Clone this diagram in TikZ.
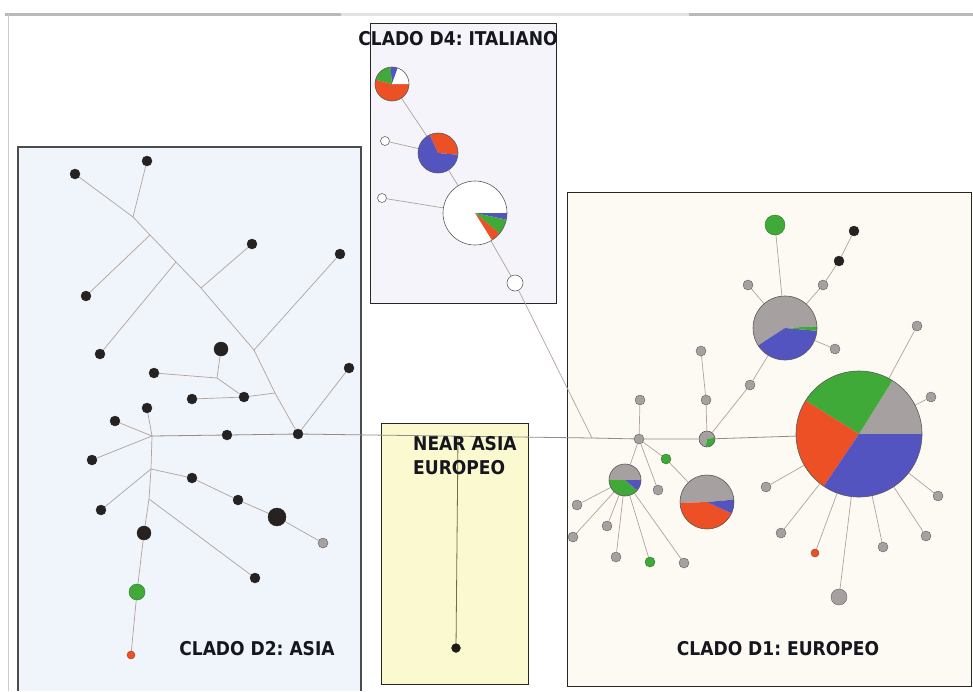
\documentclass[tikz,border=0pt]{standalone}
\usepackage{fontspec}
\setmainfont{DejaVu Sans}
\newfontfamily\lblfont{DejaVu Sans Condensed}
\pgfdeclarelayer{boxes}
\pgfdeclarelayer{edges}
\pgfdeclarelayer{pies}
\pgfsetlayers{boxes,edges,pies,main}
\definecolor{dblue}{RGB}{84,84,192}
\definecolor{dred}{RGB}{236,80,36}
\definecolor{dgreen}{RGB}{64,170,56}
\definecolor{dgray}{RGB}{166,160,160}
\definecolor{dotblk}{RGB}{38,34,34}
\definecolor{edgec}{RGB}{178,162,156}
\definecolor{edged}{RGB}{150,138,134}
\definecolor{olivec}{RGB}{120,108,62}
\definecolor{fillDtwo}{RGB}{239,245,250}
\definecolor{fillDfour}{RGB}{244,244,250}
\definecolor{fillNA}{RGB}{251,249,207}
\definecolor{fillDone}{RGB}{253,250,244}
\definecolor{labc}{RGB}{22,22,30}
\newcommand\pw[5]{\fill[#5] (#1.center) -- ++(#2:#4) arc[start angle=#2,end angle=#3,radius=#4] -- cycle;}
\begin{document}
\frenchspacing
\begin{tikzpicture}[x=1pt,y=-1pt,
  hdot/.style={circle,inner sep=0pt,minimum size=#1,line width=0.4pt},
  blk/.style={hdot=#1,fill=dotblk,draw=dotblk},
  blk/.default=10pt,
  gry/.style={hdot=#1,fill=dgray,draw=gray!75!black},
  gry/.default=10pt,
  grn/.style={hdot=#1,fill=dgreen,draw=dgreen!70!black},
  grn/.default=10pt,
  rdd/.style={hdot=#1,fill=dred,draw=dred!70!black},
  rdd/.default=8pt,
  opn/.style={hdot=#1,fill=white,draw=gray!80!black,line width=0.6pt},
  opn/.default=9pt,
  piec/.style={circle,inner sep=0pt,minimum size=#1,draw=black!65,line width=0.6pt},
  edge/.style={draw=edgec,line width=0.7pt},
  mainedge/.style={draw=edged,line width=0.8pt},
  box/.style={draw=black!85,line width=0.8pt},
  lbl/.style={font=\lblfont\bfseries\fontsize{19}{22}\selectfont,text=labc,inner sep=0pt}]
\useasboundingbox (0,0) rectangle (973,691);
\begin{pgfonlayer}{boxes}
\fill[white] (0,0) rectangle (973,691);
\draw[gray!55,line width=3pt] (5,14) -- (973,14);
\draw[gray!22,line width=3pt] (341,14) -- (689,14);
\draw[gray!40,line width=0.8pt] (8,14) -- (8,691);
\fill[fillDtwo] (18,147) rectangle (361,691);
\draw[box,draw=black!70,line width=1.1pt] (18,691) -- (18,147) -- (361,147) -- (361,691);
\filldraw[box,fill=fillDfour] (370,23) rectangle (556,303);
\filldraw[box,fill=fillNA] (381,423) rectangle (528,684);
\filldraw[box,fill=fillDone] (567,192) rectangle (971,686);
\end{pgfonlayer}

% ---------------- labels
\node[lbl,anchor=base] (labDfour) at (458,45) {CLADO D4: ITALIANO};
\node[lbl,anchor=base] (labDtwo) at (257,655) {CLADO D2: ASIA};
\node[lbl,anchor=base] (labDone) at (778,655) {CLADO D1: EUROPEO};
\node[lbl,anchor=base west] (labNAa) at (413,450) {NEAR ASIA};
\node[lbl,anchor=base west] (labNAb) at (413,474) {EUROPEO};

% ---------------- D2 nodes
\node[blk] (a) at (147,161) {};
\node[blk] (b) at (75,174) {};
\node[blk] (c) at (252,244) {};
\node[blk] (d) at (340,254) {};
\node[blk] (e) at (86,296) {};
\node[blk] (f) at (100,354) {};
\node[blk=14pt] (g) at (221,349) {};
\node[blk] (h) at (154,373) {};
\node[blk] (i) at (349,368) {};
\node[blk] (j) at (244,397) {};
\node[blk] (k) at (192,399) {};
\node[blk] (l) at (147,408) {};
\node[blk] (m) at (115,421) {};
\node[blk] (n) at (227,435) {};
\node[blk] (hubB) at (298,434) {};
\coordinate (hubA) at (152,436);
\node[blk] (p) at (92,460) {};
\node[blk] (q) at (101,510) {};
\node[blk=14pt] (r) at (144,533) {};
\node[blk] (s) at (192,478) {};
\node[blk] (t) at (238,500) {};
\node[blk=18pt] (u) at (277,517) {};
\node[gry] (v) at (323,543) {};
\node[blk] (w) at (255,578) {};
\node[grn=16pt] (gtwo) at (137,592) {};
\node[rdd] (rtwo) at (131,655) {};
\coordinate (Ja) at (133,217);
\coordinate (Je) at (150,235);
\coordinate (Jf) at (176,262);
\coordinate (Jc) at (201,288);
\coordinate (Jd) at (254,350);
\coordinate (Jj) at (275,393);
\coordinate (Jg) at (217,378);
\coordinate (Vone) at (151,469);
\coordinate (Vtwo) at (149,499);

% ---------------- Near Asia
\coordinate (naTop) at (458,436);
\node[hdot=9pt,fill=black!75!olivec,draw=black!80] (naDot) at (456,648) {};

% ---------------- D4 nodes
\node[piec=34pt] (pone) at (392,84) {};
\node[piec=40pt] (ptwo) at (438,153) {};
\node[piec=64pt] (pthree) at (475,213) {};
\node[opn=16pt] (othree) at (515,283) {};
\node[opn] (oone) at (385,141) {};
\node[opn] (otwo) at (382,198) {};
\coordinate (jx) at (592,438);

% ---------------- D1 nodes
\node[gry] (hD) at (639,439) {};
\node[gry] (uone) at (640,400) {};
\node[piec=16pt] (pC) at (707,439) {};
\node[gry] (utwo) at (706,400) {};
\node[gry] (uthree) at (701,351) {};
\node[gry] (ufour) at (750,385) {};
\node[piec=64pt] (pA) at (785,328) {};
\node[grn=20pt] (gA) at (775,225) {};
\node[gry] (ufive) at (748,285) {};
\node[gry] (usix) at (823,285) {};
\node[blk] (kone) at (839,261) {};
\node[blk] (ktwo) at (854,231) {};
\node[gry] (useven) at (835,349) {};
\node[piec=126pt] (pB) at (859,434) {};
\node[gry] (ueight) at (917,326) {};
\node[gry] (unine) at (931,397) {};
\node[gry] (bone) at (766,487) {};
\node[gry] (btwo) at (781,533) {};
\node[rdd] (bthree) at (815,553) {};
\node[gry=16pt] (bfour) at (839,597) {};
\node[gry] (bfive) at (883,547) {};
\node[gry] (bsix) at (926,536) {};
\node[gry] (bseven) at (938,496) {};
\node[piec=32pt] (pD) at (625,480) {};
\node[gry] (done) at (577,505) {};
\node[gry] (dtwo) at (573,537) {};
\node[gry] (dthree) at (607,526) {};
\node[gry] (dfour) at (616,557) {};
\node[grn] (dfive) at (650,562) {};
\node[gry] (dsix) at (684,563) {};
\node[gry] (uten) at (658,490) {};
\node[grn] (gs) at (666,459) {};
\node[piec=54pt] (pE) at (707,502) {};

% ---------------- pies
\begin{pgfonlayer}{pies}
\pw{pone}{165}{360}{17pt}{dred}
\pw{pone}{95}{165}{17pt}{dgreen}
\pw{pone}{70}{95}{17pt}{dblue}
\pw{pone}{0}{70}{17pt}{white}
\pw{ptwo}{-5}{115}{20pt}{dred}
\pw{ptwo}{115}{355}{20pt}{dblue}
\fill[white] (pthree.center) circle[radius=32pt];
\pw{pthree}{-12}{0}{32pt}{dblue}
\pw{pthree}{-40}{-12}{32pt}{dgreen}
\pw{pthree}{-58}{-40}{32pt}{dred}
\pw{pA}{3}{213}{32pt}{dgray}
\pw{pA}{213}{355}{32pt}{dblue}
\pw{pA}{355}{363}{32pt}{dgreen}
\pw{pB}{0}{58}{63pt}{dgray}
\pw{pB}{58}{148}{63pt}{dgreen}
\pw{pB}{148}{236}{63pt}{dred}
\pw{pB}{236}{360}{63pt}{dblue}
\pw{pC}{10}{260}{8pt}{dgray}
\pw{pC}{260}{370}{8pt}{dgreen}
\pw{pD}{0}{180}{16pt}{dgray}
\pw{pD}{180}{320}{16pt}{dgreen}
\pw{pD}{320}{360}{16pt}{dblue}
\pw{pE}{5}{182}{27pt}{dgray}
\pw{pE}{182}{335}{27pt}{dred}
\pw{pE}{335}{365}{27pt}{dblue}
\end{pgfonlayer}

% ---------------- edges
\begin{pgfonlayer}{edges}
% D2
\draw[edge] (b) -- (Ja) -- (Je) -- (Jf) -- (Jc) -- (Jd) -- (Jj) -- (hubB);
\draw[edge] (a) -- (Ja);
\draw[edge] (e) -- (Je);
\draw[edge] (f) -- (Jf);
\draw[edge] (c) -- (Jc);
\draw[edge] (d) -- (Jd);
\draw[edge] (j) -- (Jj);
\draw[edge] (j) -- (k);
\draw[edge] (j) -- (Jg);
\draw[edge] (g) -- (Jg);
\draw[edge] (h) -- (Jg);
\draw[edge] (hubB) -- (i);
\draw[edge] (l) -- (hubA);
\draw[edge] (m) -- (hubA);
\draw[edge] (p) -- (hubA);
\draw[edge] (hubA) -- (Vone) -- (Vtwo) -- (r);
\draw[edge] (q) -- (Vone);
\draw[edge] (Vone) -- (s) -- (t) -- (u) -- (v);
\draw[edge] (Vtwo) -- (w);
\draw[edge] (r) -- (gtwo) -- (rtwo);
% main horizontal
\draw[mainedge] (hubA) -- (n) -- (hubB) -- (jx) -- (hD);
\draw[olivec,line width=0.8pt] (naTop) -- (naDot);
% D4
\draw[edge] (pone) -- (ptwo) -- (pthree) -- (othree) -- (jx);
\draw[edge] (oone) -- (ptwo);
\draw[edge] (otwo) -- (pthree);
% D1
\draw[mainedge] (hD) -- (pC) -- (pB);
\draw[edge] (hD) -- (uone);
\draw[edge] (pC) -- (utwo) -- (uthree);
\draw[edge] (pC) -- (ufour) -- (pA);
\draw[edge] (pA) -- (gA);
\draw[edge] (pA) -- (ufive);
\draw[edge] (pA) -- (usix) -- (kone) -- (ktwo);
\draw[edge] (pA) -- (useven);
\draw[edge] (pB) -- (ueight);
\draw[edge] (pB) -- (unine);
\foreach \x in {bone,btwo,bthree,bfour,bfive,bsix,bseven} \draw[edge] (pB) -- (\x);
\draw[edge] (hD) -- (pD);
\foreach \x in {done,dtwo,dthree,dfour,dfive,dsix} \draw[edge] (pD) -- (\x);
\draw[edge] (hD) -- (uten);
\draw[edge] (hD) -- (gs) -- (pE);
\end{pgfonlayer}
\end{tikzpicture}
\end{document}
